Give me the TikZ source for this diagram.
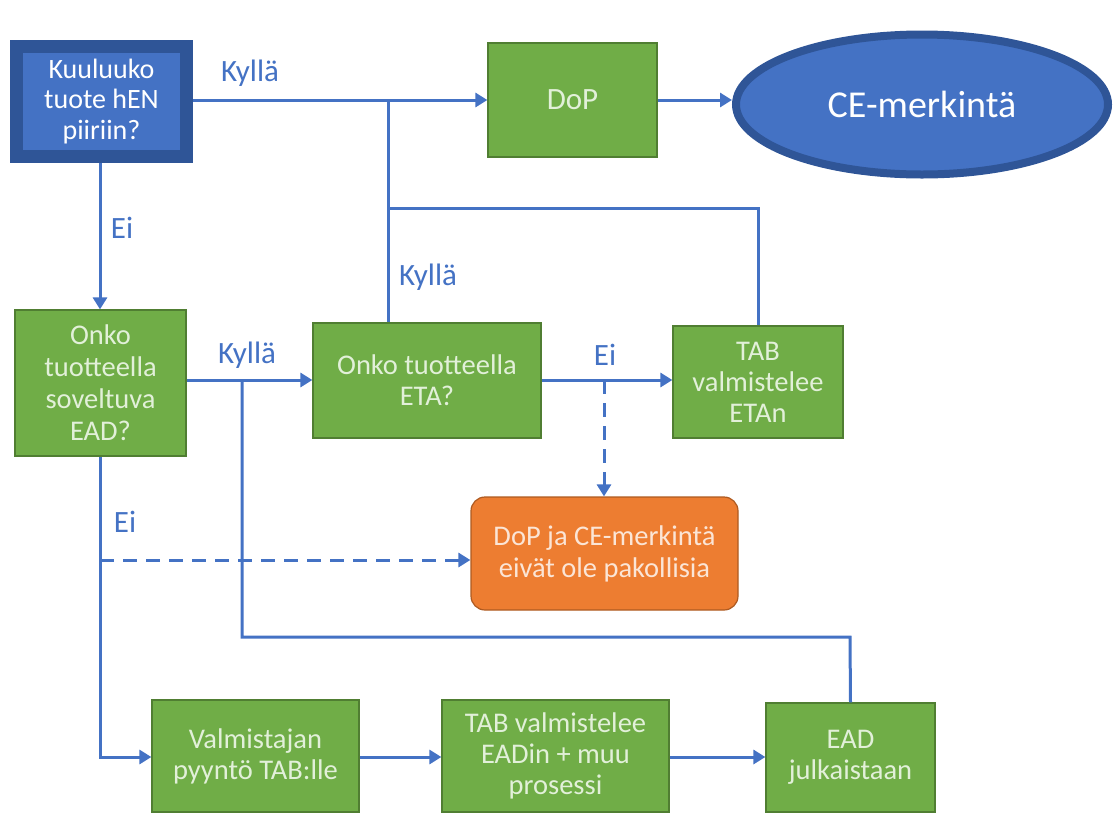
\documentclass[tikz,border=0pt]{standalone}
\usepackage{fontspec}
\setmainfont{Carlito}
\usetikzlibrary{arrows.meta,shapes.geometric}
\definecolor{flowblue}{HTML}{4472C4}
\definecolor{deepblue}{HTML}{2F5597}
\definecolor{boxgreen}{HTML}{70AD47}
\definecolor{boxgreenline}{HTML}{507E32}
\definecolor{greentext}{HTML}{E2F0D9}
\definecolor{boxorange}{HTML}{ED7D31}
\definecolor{orangeline}{HTML}{AE5A21}
\definecolor{orangetext}{HTML}{FBE5D6}
\tikzset{
  greenbox/.style={draw=boxgreenline, line width=1.2pt, fill=boxgreen, text=greentext,
    font=\fontsize{28.5}{31}\selectfont, align=center, inner sep=0pt},
  flow/.style={draw=flowblue, line width=3pt},
  flowarrow/.style={flow, -{Triangle[length=12pt,width=14pt]}},
  dashflow/.style={flow, dash pattern=on 14pt off 9pt},
  lbl/.style={text=flowblue, font=\fontsize{31}{36}\selectfont, inner sep=0pt}
}
\begin{document}
\begin{tikzpicture}[x=1pt,y=-1pt]
\useasboundingbox (0,0) rectangle (1114,815);

% start question
\node[draw=deepblue, line width=13pt, fill=flowblue, text=white,
  minimum width=170pt, minimum height=110pt, align=center,
  font=\fontsize{28}{30.5}\selectfont] (hen) at (101.5,101.5)
  {Kuuluuko\\tuote hEN\\piiriin?};

% top row
\node[greenbox, minimum width=169pt, minimum height=114pt, font=\fontsize{31}{36}\selectfont] (dop) at (572.5,100) {DoP};
\node[ellipse, draw=deepblue, line width=8pt, fill=flowblue, text=white,
  minimum width=372pt, minimum height=140pt, inner sep=0pt,
  font=\fontsize{38}{44}\selectfont] (ce) at (922,104.5) {CE-merkintä};

% middle row
\node[greenbox, minimum width=171pt, minimum height=146pt, font=\fontsize{28.5}{32}\selectfont] (ead) at (100.5,383) {Onko\\tuotteella\\soveltuva\\EAD?};
\node[greenbox, minimum width=228pt, minimum height=115pt] (eta) at (427,380.5) {Onko tuotteella\\ETA?};
\node[greenbox, minimum width=170pt, minimum height=112pt] (tabeta) at (758,382) {TAB\\valmistelee\\ETAn};
\node[draw=orangeline, line width=1.2pt, fill=boxorange, text=orangetext, rounded corners=14pt,
  minimum width=267pt, minimum height=113pt, align=center, inner sep=0pt,
  font=\fontsize{28.5}{32}\selectfont] (nope) at (604.5,553.5) {DoP ja CE-merkintä\\eivät ole pakollisia};

% bottom row
\node[greenbox, minimum width=207pt, minimum height=112pt] (req) at (255.5,756) {Valmistajan\\pyyntö TAB:lle};
\node[greenbox, minimum width=227pt, minimum height=112pt] (tabead) at (555.5,756) {TAB valmistelee\\EADin + muu\\prosessi};
\node[greenbox, minimum width=169pt, minimum height=109pt] (pub) at (850.5,757.5) {EAD\\julkaistaan};

% junction points
\coordinate (j1) at (388,100);
\coordinate (j2) at (388,208);
\coordinate (j3) at (242,380);
\coordinate (j4) at (604,380);
\coordinate (j5) at (100,560);

% connectors
\draw[flowarrow] (hen.east |- 0,100) -- (dop.west |- 0,100);
\draw[flowarrow] (dop.east |- 0,100) -- (ce.west |- 0,100);
\draw[flow] (j1) -- (eta.north -| j1);
\draw[flow] (j2) -| (tabeta.north);
\draw[flowarrow] (hen.south -| 100,0) -- (ead.north -| 100,0);
\draw[flowarrow] (ead.east |- 0,380) -- (eta.west |- 0,380);
\draw[flowarrow] (eta.east |- 0,380) -- (tabeta.west |- 0,380);
\draw[dashflow, -{Triangle[length=12pt,width=14pt]}] (j4) -- (nope.north -| j4);
\draw[dashflow, -{Triangle[length=12pt,width=14pt]}] (j5) -- (nope.west |- j5);
\draw[flowarrow] (ead.south -| 100,0) |- (req.west |- 0,757);
\draw[flow] (j3) |- (850,637) -- (pub.north);
\draw[flowarrow] (req.east |- 0,757) -- (tabead.west |- 0,757);
\draw[flowarrow] (tabead.east |- 0,757) -- (pub.west |- 0,757);

% branch labels
\node[lbl] (l1) at (250,73) {Kyllä};
\node[lbl] (l2) at (122,228) {Ei};
\node[lbl] (l3) at (428,277) {Kyllä};
\node[lbl] (l4) at (247,355) {Kyllä};
\node[lbl] (l5) at (605,355) {Ei};
\node[lbl] (l6) at (125,522) {Ei};
\end{tikzpicture}
\end{document}
